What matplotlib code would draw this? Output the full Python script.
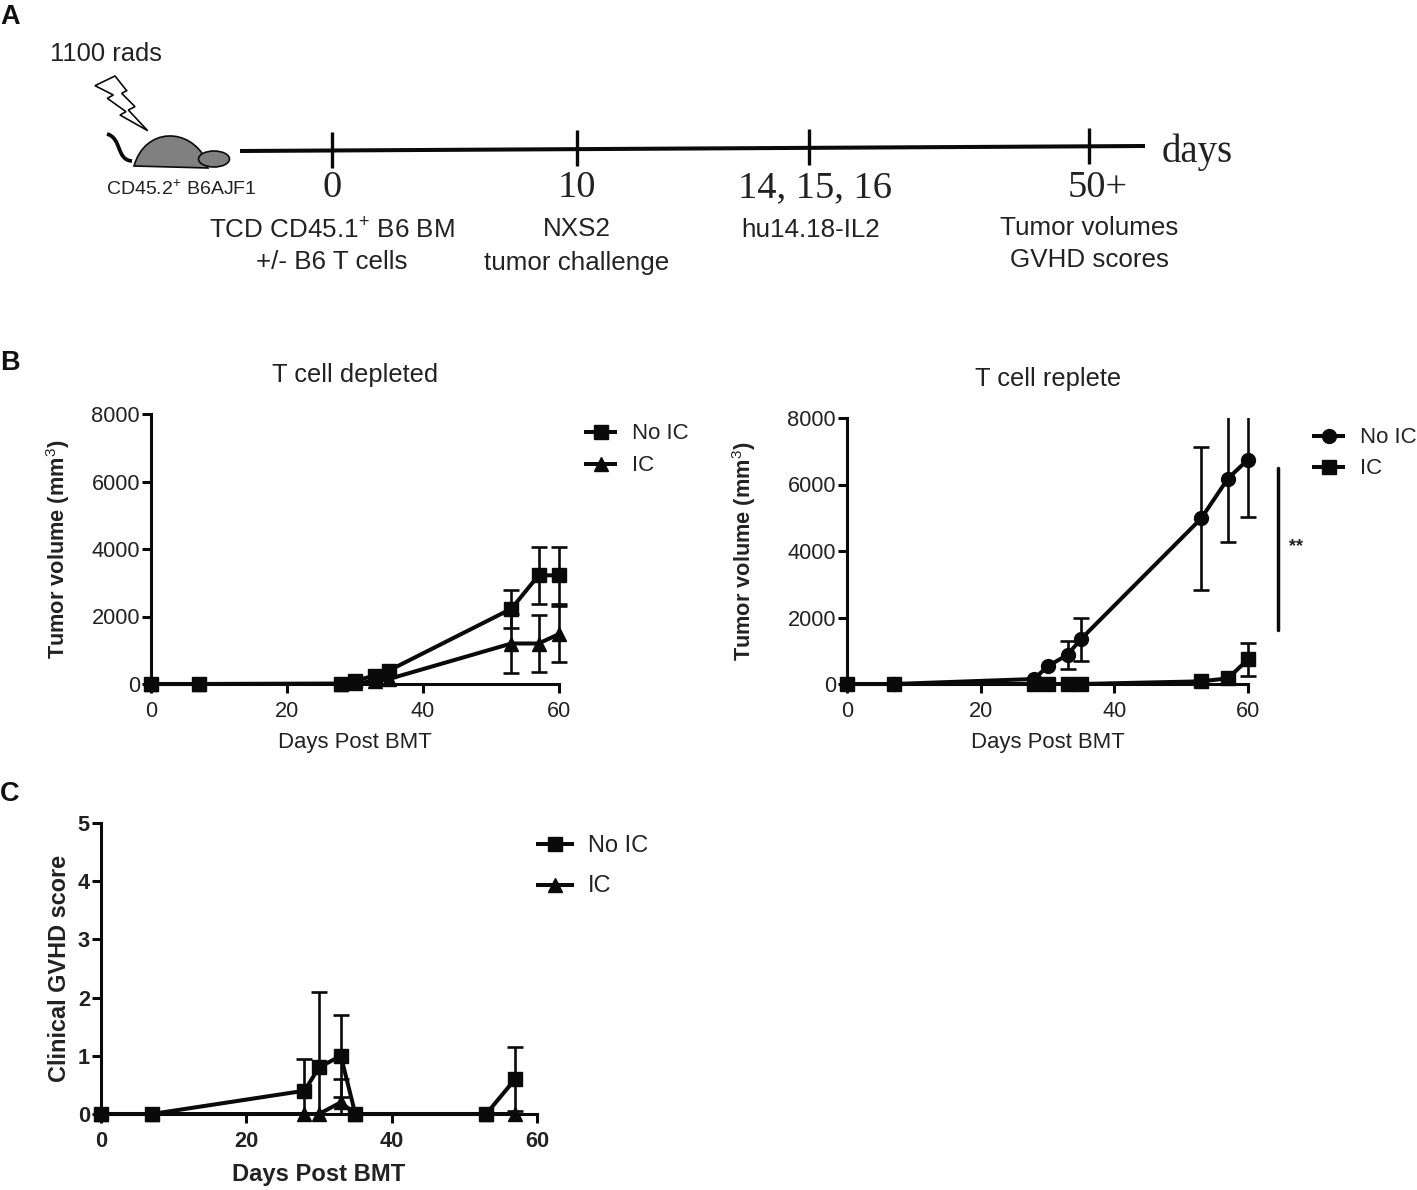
import numpy as np
import matplotlib
matplotlib.use("Agg")
import matplotlib.pyplot as plt
from matplotlib.lines import Line2D
from matplotlib.patches import Ellipse, Polygon, PathPatch, Rectangle
from matplotlib.path import Path

plt.rcParams['font.family'] = ['Liberation Sans', 'DejaVu Sans']
plt.rcParams['mathtext.fontset'] = 'custom'
plt.rcParams['mathtext.rm'] = 'Liberation Sans'
plt.rcParams['mathtext.bf'] = 'Liberation Sans:bold'

W, H = 1417, 1190
INK = '#0a0a0a'
TXT = '#222222'

# ---- data ----
days = [0, 7, 28, 30, 33, 35, 53, 57, 60]
days_c = [0, 7, 28, 30, 33, 35, 53, 57]

dep_noic = [0, 0, 10, 100, 250, 400, 2230, 3220, 3220]
dep_noic_lo = [0, 0, 0, 0, 0, 0, 570, 850, 850]
dep_noic_hi = [0, 0, 0, 0, 0, 0, 570, 850, 850]
dep_ic = [0, 0, 5, 30, 80, 150, 1200, 1200, 1480]
dep_ic_lo = [0, 0, 0, 0, 0, 0, 870, 850, 830]
dep_ic_hi = [0, 0, 0, 0, 0, 0, 870, 850, 830]

rep_noic = [0, 0, 150, 530, 880, 1350, 4980, 6180, 6750]
rep_noic_lo = [0, 0, 0, 0, 430, 660, 2150, 1900, 1720]
rep_noic_hi = [0, 0, 0, 0, 410, 640, 2140, 2500, 2500]
rep_ic = [0, 0, 0, 0, 0, 0, 80, 170, 740]
rep_ic_lo = [0, 0, 0, 0, 0, 0, 0, 0, 500]
rep_ic_hi = [0, 0, 0, 0, 0, 0, 0, 0, 490]

gvhd_noic = [0, 0, 0.4, 0.8, 1.0, 0, 0, 0.6]
gvhd_noic_lo = [0, 0, 0.55, 1.3, 0.7, 0, 0, 0.55]
gvhd_noic_hi = [0, 0, 0.55, 1.3, 0.7, 0, 0, 0.55]
gvhd_ic = [0, 0, 0, 0, 0.2, 0, 0, 0]
gvhd_ic_lo = [0, 0, 0, 0, 0.4, 0, 0, 0]
gvhd_ic_hi = [0, 0, 0, 0, 0.4, 0, 0, 0]

x_ticks = [0, 20, 40, 60]
y_ticks_b = [0, 2000, 4000, 6000, 8000]
y_ticks_c = [0, 1, 2, 3, 4, 5]

timeline_days = ['0', '10', '14, 15, 16', '50+']
timeline_pos = [332, 577, 809, 1089]
timeline_y = [150.6, 149.0, 148.2, 147.0]
timeline_day_x = [332, 577, 815, 1098]
timeline_lines = ['TCD CD45.1$^{+}$ B6 BM\n+/- B6 T cells', 'NXS2\ntumor challenge',
                  'hu14.18-IL2', 'Tumor volumes\nGVHD scores']
timeline_line_x = [332, 577, 811, 1089]
timeline_line_y = [245.5, 246, 230, 244]
timeline_spacing = [1.42, 1.48, 1.2, 1.38]

fig = plt.figure(figsize=(W / 100, H / 100), dpi=100)
over = fig.add_axes([0, 0, 1, 1], zorder=5)
over.set_xlim(0, W)
over.set_ylim(H, 0)
over.axis('off')
over.patch.set_visible(False)


def make_axes(x0, x1, ytop, ybot):
    return fig.add_axes([x0 / W, (H - ybot) / H, (x1 - x0) / W, (ybot - ytop) / H])


def series(ax, x, y, lo, hi, marker, ms):
    x, y, lo, hi = map(np.asarray, (x, y, lo, hi))
    keep = hi > 0
    eb = ax.errorbar(x[keep], y[keep], yerr=[lo[keep], hi[keep]], fmt='none', ecolor=INK,
                     elinewidth=1.9, capsize=5.8, capthick=1.9, zorder=3)
    # clip vertically at the axis range only, so caps at the last day stay whole
    clip = Rectangle((-0.1, 0), 1.2, 1.0, transform=ax.transAxes)
    for art in list(eb.lines[1]) + list(eb.lines[2]):
        art.set_clip_path(clip)
    ax.plot(x, y, color=INK, lw=2.9, marker=marker, ms=ms, mfc=INK, mec=INK,
            clip_on=False, zorder=4)


def style(ax, xlim, ylim, xt, yt, xlabel, ylabel, bold, fs=15.7, lfs=(15.9, 15.7), lpad=(7.5, 14)):
    ax.set_xlim(*xlim)
    ax.set_ylim(*ylim)
    ax.set_xticks(xt)
    ax.set_yticks(yt)
    for s in ('top', 'right'):
        ax.spines[s].set_visible(False)
    for s in ('left', 'bottom'):
        ax.spines[s].set_linewidth(2.2)
        ax.spines[s].set_color(INK)
    w = 'bold' if bold else 'normal'
    ax.tick_params(length=6.5, width=2.2, color=INK, labelsize=fs, labelcolor=TXT)
    ax.tick_params(axis='x', pad=5.5)
    ax.tick_params(axis='y', pad=1.5)
    if bold:
        for t in ax.get_xticklabels() + ax.get_yticklabels():
            t.set_fontweight('bold')
    ax.set_xlabel(xlabel, fontsize=lfs[0], fontweight=w, color=TXT, labelpad=lpad[0])
    ax.set_ylabel(ylabel, fontsize=lfs[1], fontweight='bold', color=TXT, labelpad=lpad[1])
    ax.patch.set_visible(False)


def legend(entries, x0, x1, xt, ys, fs):
    for (lab, m, ms), y in zip(entries, ys):
        over.add_line(Line2D([x0, x1], [y, y], color=INK, lw=2.9))
        over.plot([(x0 + x1) / 2], [y], marker=m, ms=ms, color=INK, mec=INK)
        over.text(xt, y + 1.5, lab, fontsize=fs, va='center', ha='left', color=TXT)


# ---- panel B left ----
a1 = make_axes(151, 559, 414, 684)
series(a1, days, dep_ic, dep_ic_lo, dep_ic_hi, '^', 9.5)
series(a1, days, dep_noic, dep_noic_lo, dep_noic_hi, 's', 9.5)
style(a1, (0, 60), (0, 8000), x_ticks, y_ticks_b, 'Days Post BMT', 'Tumor volume (mm$^{3}$)', False)
legend([('No IC', 's', 9.5), ('IC', '^', 9.5)], 586, 615, 632, [432, 464], 16)

# ---- panel B right ----
a2 = make_axes(847, 1248, 418, 684)
series(a2, days, rep_noic, rep_noic_lo, rep_noic_hi, 'o', 10)
series(a2, days, rep_ic, rep_ic_lo, rep_ic_hi, 's', 9.5)
style(a2, (0, 60), (0, 8000), x_ticks, y_ticks_b, 'Days Post BMT', 'Tumor volume (mm$^{3}$)', False,
      lpad=(7.5, 21))
legend([('No IC', 'o', 10), ('IC', 's', 9.5)], 1314, 1343, 1360, [436, 467], 16)
over.plot([1278, 1278], [468, 630], color=INK, lw=2.5, solid_capstyle='round')
over.text(1296, 547, '**', fontsize=13, ha='center', va='center', color=TXT, fontweight='bold')

# ---- panel C ----
a3 = make_axes(101, 537, 823, 1114)
series(a3, days_c, gvhd_ic, gvhd_ic_lo, gvhd_ic_hi, '^', 9.5)
series(a3, days_c, gvhd_noic, gvhd_noic_lo, gvhd_noic_hi, 's', 9.5)
style(a3, (0, 60), (0, 5), x_ticks, y_ticks_c, 'Days Post BMT', 'Clinical GVHD score', True,
      fs=15.7, lfs=(17.1, 16.9), lpad=(8.3, 5))
legend([('No IC', 's', 9.5), ('IC', '^', 9.5)], 538, 572, 588, [844, 885], 17)

# ---- titles ----
over.text(355, 375, 'T cell depleted', fontsize=18.4, ha='center', va='center', color=TXT)
over.text(1048, 379, 'T cell replete', fontsize=18.4, ha='center', va='center', color=TXT)

# ---- panel letters ----
for lab, y in zip('ABC', (17, 363, 794)):
    over.text(10, y, lab, fontsize=19.5, fontweight='bold', ha='center', va='center', color='#111111')

# ---- panel A schematic ----
over.plot([240, 1145], [151, 146], color=INK, lw=2.9, solid_capstyle='butt')
serif = ['Liberation Serif', 'DejaVu Serif']
for x, y in zip(timeline_pos, timeline_y):
    over.plot([x, x], [y - 19, y + 17], color=INK, lw=2.4, solid_capstyle='butt')
for x, day in zip(timeline_day_x, timeline_days):
    over.text(x, 188, day, family=serif, fontsize=27.7, ha='center', va='center', color=TXT)
for x, y, lab, ls in zip(timeline_line_x, timeline_line_y, timeline_lines, timeline_spacing):
    over.text(x, y, lab, fontsize=18.7, ha='center', va='center', color=TXT, linespacing=ls)
over.text(1162, 152, 'days', family=serif, fontsize=28, ha='left', va='center', color=TXT)
over.text(105.5, 54, '1100 rads', fontsize=18.4, ha='center', va='center', color=TXT)
over.text(181, 189, 'CD45.2$^{+}$ B6AJF1', fontsize=14, ha='center', va='center', color=TXT)

body = Path([(134, 166), (145, 127), (190, 127), (206, 160), (208, 168), (134, 166)],
            [Path.MOVETO, Path.CURVE4, Path.CURVE4, Path.CURVE4, Path.LINETO, Path.CLOSEPOLY])
over.add_patch(PathPatch(body, fc='#808080', ec=INK, lw=1.2))
over.add_patch(Ellipse((214, 159), 31, 16, fc='#808080', ec=INK, lw=1.2))
tail = Path([(107, 134), (122, 138), (116, 160), (132, 161)],
            [Path.MOVETO, Path.CURVE4, Path.CURVE4, Path.CURVE4])
over.add_patch(PathPatch(tail, fc='none', ec=INK, lw=2.7))
bolt = np.array([(285, 257), (345, 228), (380, 272), (365, 280), (405, 320), (385, 330),
                 (443, 392), (360, 345), (378, 335), (322, 295), (340, 285)]) / 3
over.add_patch(Polygon(bolt, closed=True, fc='white', ec=INK, lw=1.2))

fig.savefig('out.png', dpi=100, facecolor='white')
